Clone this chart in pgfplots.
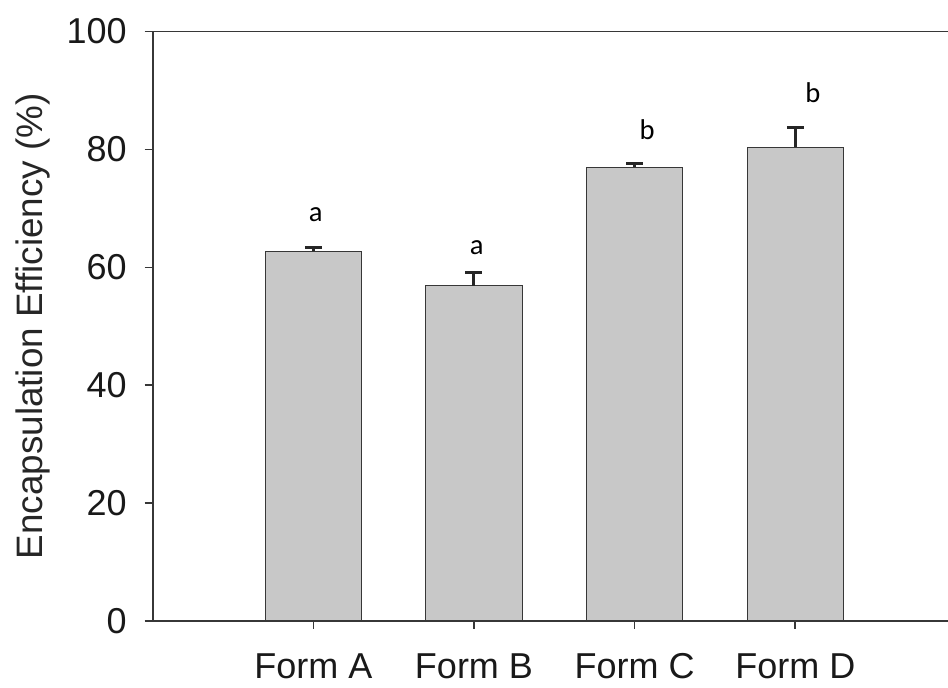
\documentclass[border=0pt]{standalone}
\usepackage{pgfplots}
\pgfplotsset{compat=1.18}
\usepackage{fontspec}
\setmainfont{Liberation Sans}
\newfontfamily\calibri{Carlito}
\definecolor{barfill}{RGB}{200,200,200}
\definecolor{edge}{RGB}{55,55,55}
\begin{document}
\begin{tikzpicture}
\begin{axis}[
  name=ax,
  scale only axis, width=397.6pt, height=294.7pt,
  xmin=0, xmax=4.95, ymin=0, ymax=100,
  axis x line*=box, axis y line*=left,
  axis line style={edge, line width=0.9pt},
  xtick={1,2,3,4}, xticklabels={Form A, Form B, Form C, Form D},
  xtick pos=lower,
  ytick={0,20,40,60,80,100},
  tick align=outside, major tick length=4pt,
  tick style={edge, line width=0.8pt},
  /pgf/number format/assume math mode=true,
  ticklabel style={font=\fontsize{18}{18}\selectfont, color=black!90},
  xticklabel style={text height=12.9pt, text depth=0pt, yshift=-8.5pt},
  yticklabel style={xshift=-5.5pt},
  ylabel={Encapsulation Efficiency (\%)},
  ylabel style={font=\fontsize{18.4}{18.4}\selectfont, color=black!85,
    at={(axis description cs:-0.1383,0.5)}, anchor=base},
  clip=false,
]
\addplot[ybar, bar width=0.6, fill=barfill, draw=edge, line width=0.6pt,
  error bars/.cd, y dir=plus, y explicit,
  error bar style={line width=1.5pt, black!85},
  error mark options={rotate=90, mark size=4.25pt, line width=1.5pt, black!85}]
  coordinates {
  (1,62.7) +- (0,0.7)
  (2,56.9) +- (0,2.3)
  (3,77.0) +- (0,0.7)
  (4,80.4) +- (0,3.3)
  };
\node[anchor=base, inner sep=0, font=\calibri\fontsize{14.3}{14.3}\selectfont] at (axis cs:1.015,67.8) {a};
\node[anchor=base, inner sep=0, font=\calibri\fontsize{14.3}{14.3}\selectfont] at (axis cs:2.017,62.1) {a};
\node[anchor=base, inner sep=0, font=\calibri\fontsize{14.3}{14.3}\selectfont] at (axis cs:3.078,81.7) {b};
\node[anchor=base, inner sep=0, font=\calibri\fontsize{14.3}{14.3}\selectfont] at (axis cs:4.11,88.0) {b};
\end{axis}
\pgfresetboundingbox
\useasboundingbox ([shift={(-76.35pt,-33.5pt)}]ax.south west) rectangle ++(474pt,344pt);
\end{tikzpicture}
\end{document}
